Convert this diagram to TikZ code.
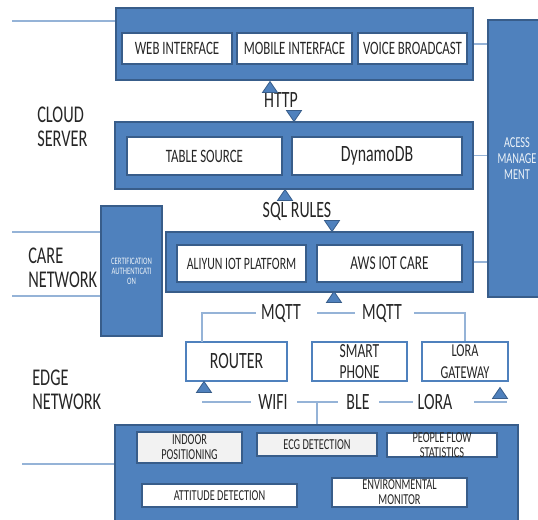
\documentclass[tikz,border=0pt]{standalone}
\usepackage{fontspec}
\setmainfont{Carlito}[FakeStretch=0.68]
\usetikzlibrary{fit,positioning}

\definecolor{boxblue}{HTML}{4F81BD}
\definecolor{edgeblue}{HTML}{385D8A}
\definecolor{lineblue}{HTML}{95B3D7}
\definecolor{panegray}{HTML}{F2F2F2}
\definecolor{inkgray}{HTML}{262626}

\tikzset{
  layer/.style={fill=boxblue, draw=edgeblue, line width=1.2pt, inner sep=0pt},
  cell/.style={fill=white, draw=edgeblue, line width=1.5pt, inner sep=0pt},
  device/.style={fill=white, draw=boxblue, line width=1.3pt, inner sep=0pt},
  sensor/.style={fill=white, draw=edgeblue, line width=1pt, inner sep=0pt},
  celltext/.style={align=center, inner sep=0pt, text=inkgray,
    font=\fontsize{14.2}{15}\selectfont},
  devtext/.style={celltext, font=\fontsize{15}{16}\selectfont},
  sensetext/.style={celltext, font=\fontsize{11.4}{11.25}\selectfont},
  whitetext/.style={align=center, inner sep=0pt, text=white!90!boxblue},
  proto/.style={text=inkgray, inner sep=1pt, font=\fontsize{17.5}{18}\selectfont},
  tier/.style={anchor=west, align=left, inner sep=0pt, text=inkgray,
    font=\fontsize{18}{18}\selectfont},
  link/.style={draw=lineblue, line width=0.9pt},
  tri/.style={fill=boxblue, draw=edgeblue, line width=0.6pt}
}

\begin{document}
\begin{tikzpicture}[x=0.75pt, y=-0.75pt]
\useasboundingbox (0,0) rectangle (538,519);

% cloud server
\node[layer, fit={(116,8) (473,80)}] (web) {};
\node[cell, fit={(122,33) (232,64)}, label={[celltext]center:WEB INTERFACE}] (webui) {};
\node[cell, fit={(237,33) (352,64)}, label={[celltext]center:MOBILE INTERFACE}] (mobui) {};
\node[cell, fit={(358,33) (467,64)}, label={[celltext]center:VOICE BROADCAST}] (voice) {};

\node[layer, fit={(115,122) (473,189)}] (store) {};
\node[cell, fit={(127,137) (282,175)}, label={[celltext]center:TABLE SOURCE}] (table) {};
\node[cell, fit={(292,137) (462,175)},
  label={[celltext, font=\fontsize{17.5}{18}\selectfont]center:DynamoDB}] (dynamo) {};

\node[proto] (http) at (281,100) {HTTP};
\node[proto] (sql) at (297,211) {SQL RULES};

% care network
\node[layer, fit={(166,232) (473,292)}] (care) {};
\node[cell, fit={(177,245) (306,282)},
  label={[celltext, font=\fontsize{13}{14}\selectfont]center:ALIYUN IOT PLATFORM}] (aliyun) {};
\node[cell, fit={(317,245) (462,282)},
  label={[celltext, font=\fontsize{14.7}{15}\selectfont]center:AWS IOT CARE}] (aws) {};

\node[layer, fit={(101,206) (162,336)},
  label={[whitetext, font=\fontsize{7.4}{7.5}\selectfont]center:CERTIFICATION\\AUTHENTICATI\\ON}] (cert) {};
\node[layer, fit={(488,20) (546,297)},
  label={[whitetext, font=\fontsize{11.4}{12}\selectfont]center:ACESS\\MANAGE\\MENT}] (access) {};

% edge network
\node[proto] (mqttA) at (281,313) {MQTT};
\node[proto] (mqttB) at (382,313) {MQTT};

\node[device, fit={(186,342) (287,381)},
  label={[devtext, font=\fontsize{17.5}{18}\selectfont]center:ROUTER}] (router) {};
\node[device, fit={(312,342) (407,381)}, label={[devtext]center:SMART\\PHONE}] (phone) {};
\node[device, fit={(422,342) (508,381)},
  label={[devtext, font=\fontsize{13.6}{16}\selectfont]center:LORA\\GATEWAY}] (gateway) {};

\node[proto] (wifi) at (273,402) {WIFI};
\node[proto] (ble) at (358,402) {BLE};
\node[proto] (lora) at (435,402) {LORA};

\node[layer, fit={(115,425) (518,525)}] (sense) {};
\node[sensor, fit={(137,432) (242,463)}, fill=panegray,
  label={[sensetext]center:INDOOR\\POSITIONING}] (indoor) {};
\node[sensor, fit={(257,433) (377,456)}, fill=panegray,
  label={[sensetext]center:ECG DETECTION}] (ecg) {};
\node[sensor, fit={(387,433) (497,457)},
  label={[sensetext]center:PEOPLE FLOW\\STATISTICS}] (flow) {};
\node[sensor, fit={(142,484) (297,507)},
  label={[sensetext]center:ATTITUDE DETECTION}] (attitude) {};
\node[sensor, fit={(332,478) (467,507)},
  label={[sensetext]center:ENVIRONMENTAL\\MONITOR}] (env) {};

% tier labels
\node[tier] (cloudlbl) at (37,127) {CLOUD\\SERVER};
\node[tier] (carelbl) at (28,268) {CARE\\NETWORK};
\node[tier] (edgelbl) at (32,390) {EDGE\\NETWORK};

% separators
\coordinate (g1) at (12,21);
\coordinate (g2) at (12,232);
\coordinate (g3) at (12,296);
\coordinate (g4) at (22,464);
\draw[link] (g1) -- (g1 -| web.west);
\draw[link] (g2) -- (g2 -| cert.west);
\draw[link] (g3) -- (g3 -| cert.west);
\draw[link] (g4) -- (g4 -| sense.west);

\draw[link] (web.east) -- (web.east -| access.west);
\draw[link] (store.east) -- (store.east -| access.west);
\draw[link] (care.east) -- (care.east -| access.west);

% mqtt links
\coordinate (rtap) at (202,342);
\draw[link, shorten <=3pt] (mqttA.west) -| (rtap);
\draw[link, shorten <=11pt, shorten >=4pt] (mqttA.east) -- (mqttB.west);
\draw[link, shorten <=8pt] (mqttB.east) -| (gateway.north);

% radio links
\coordinate (wl) at (202,402);
\coordinate (wr) at (507,402);
\coordinate (tap) at (317,402);
\draw[link, shorten >=4pt] (wl) -- (wifi.west);
\draw[link, shorten <=6pt, shorten >=5pt] (wifi.east) -- (ble.west);
\draw[link, shorten <=6pt, shorten >=2pt] (ble.east) -- (lora.west);
\draw[link, shorten <=15pt] (lora.east) -- (wr);
\draw[link] (tap) -- (tap |- sense.north);

% triangles
\foreach \x/\y/\d in {270/87/1, 294/116/-1, 285/195/1, 332/226/-1,
                      334/297/1, 204/387/1, 500/393/1}
  \filldraw[tri] (\x-7.5,\y+5.5*\d) -- (\x+7.5,\y+5.5*\d) -- (\x,\y-5.5*\d) -- cycle;
\end{tikzpicture}
\end{document}
